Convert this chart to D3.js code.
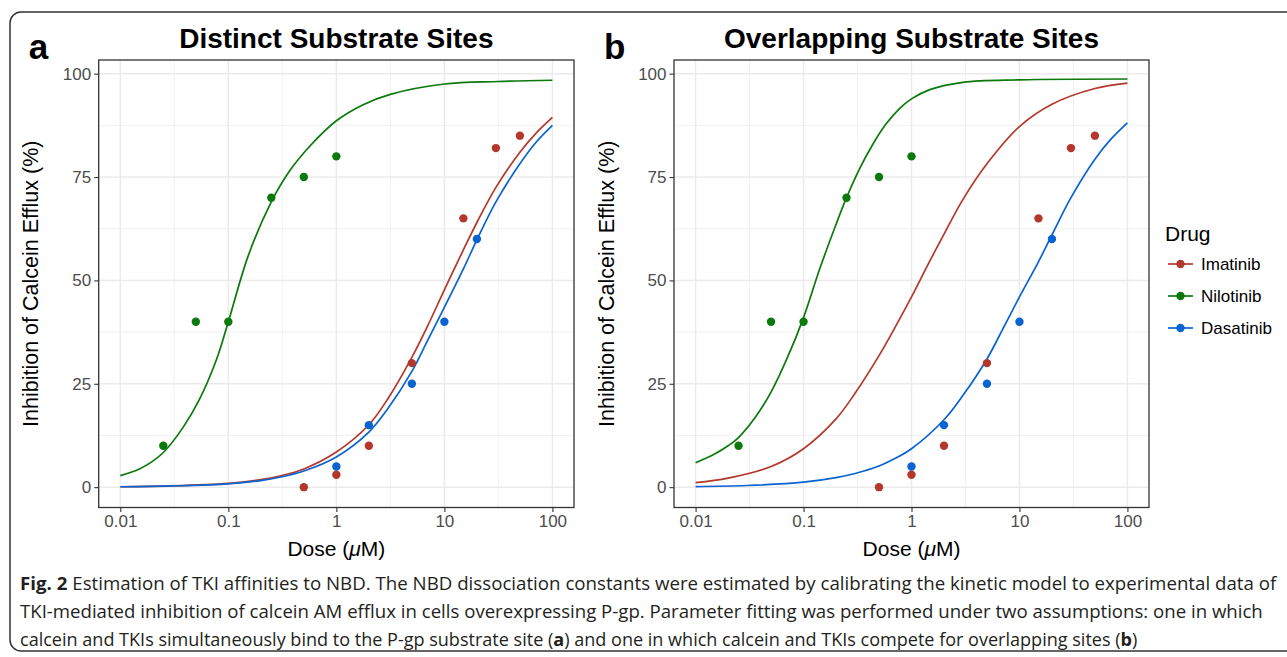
<!doctype html>
<html lang="en">

<head>
    <meta charset="utf-8">
    <title>TKI affinities to NBD</title>
    <script src="https://cdn.jsdelivr.net/npm/d3@7"></script>
    <style>
        body { margin: 0; background: #fff; }
        svg { display: block; font-family: "Liberation Sans", Arial, sans-serif; }
    </style>
</head>

<body>
    <svg></svg>
    <script>
        var width = 1287;
        var height = 657;

        // categories / legend
        var drugs = ["Imatinib", "Nilotinib", "Dasatinib"];
        var colors = ["#b3382b", "#0b790b", "#0a63d2"];
        var panelLetters = ["a", "b"];
        var panelTitles = ["Distinct Substrate Sites", "Overlapping Substrate Sites"];

        // tick labels
        var xTicks = [0.01, 0.1, 1, 10, 100];
        var xTickLabels = ["0.01", "0.1", "1", "10", "100"];
        var yTicks = [0, 25, 50, 75, 100];

        // observed data [dose (uM), inhibition (%)] - same in both panels
        var imatinibObs = [[0.5, 0], [1, 3], [2, 10], [5, 30], [15, 65], [30, 82], [50, 85]];
        var nilotinibObs = [[0.025, 10], [0.05, 40], [0.1, 40], [0.25, 70], [0.5, 75], [1, 80]];
        var dasatinibObs = [[1, 5], [2, 15], [5, 25], [10, 40], [20, 60]];

        // fitted model curves - panel a (distinct sites)
        var imatinibFitA = [[0.01, 0.1], [0.03, 0.3], [0.1, 0.9], [0.2, 1.8], [0.3, 2.7], [0.5, 4.4], [1, 8.5], [2, 15.1],
            [3, 21.4], [5, 31.4], [7, 39], [10, 47.7], [15, 57.4], [20, 64], [30, 72.5], [50, 81], [70, 85.5], [100, 89.4]];
        var nilotinibFitA = [[0.01, 2.8], [0.015, 4.4], [0.02, 6.3], [0.0253, 8.5], [0.038, 14.4], [0.054, 21.2], [0.078, 31],
            [0.1, 40], [0.153, 56], [0.25, 69], [0.37, 76.5], [0.57, 82.5], [1, 88.6], [1.77, 92.5], [3.16, 95.0], [10, 97.5],
            [31.6, 98.1], [100, 98.4]];
        var dasatinibFitA = [[0.01, 0.1], [0.03, 0.3], [0.1, 0.8], [0.2, 1.6], [0.3, 2.4], [0.5, 3.9], [1, 7.3], [2, 13.3],
            [3, 19], [5, 28], [7, 35.5], [10, 43.5], [15, 52.8], [20, 59.8], [30, 69], [50, 78.2], [70, 83.3], [100, 87.5]];

        // panel b (overlapping sites)
        var imatinibFitB = [[0.01, 1.1], [0.02, 2.2], [0.05, 5], [0.1, 9.3], [0.2, 16.5], [0.3, 22.7], [0.5, 31.8],
            [0.7, 38.5], [1, 46], [1.5, 55], [2, 61.2], [3, 69.6], [5, 78.2], [10, 87.2], [20, 92.6], [50, 96.4], [100, 97.7]];
        var nilotinibFitB = [[0.01, 5.9], [0.015, 8.0], [0.02, 10.0], [0.025, 12.0], [0.036, 17], [0.05, 23], [0.07, 31],
            [0.1, 41], [0.14, 52.5], [0.19, 62], [0.25, 70], [0.33, 77], [0.44, 83], [0.58, 87.8], [0.77, 91.5], [1, 93.9],
            [1.5, 96.2], [3, 97.9], [10, 98.5], [100, 98.7]];
        var dasatinibFitB = [[0.01, 0.15], [0.03, 0.4], [0.1, 1.2], [0.2, 2.3], [0.3, 3.3], [0.5, 5.1], [0.7, 6.9], [1, 9.3],
            [2, 16.3], [3, 22.2], [5, 31], [7, 38.2], [10, 46], [15, 54.5], [20, 61], [30, 70], [50, 79.3], [70, 84.1], [100, 88.1]];

        var obsByDrug = [imatinibObs, nilotinibObs, dasatinibObs];
        var fitsByPanel = [
            [imatinibFitA, nilotinibFitA, dasatinibFitA],
            [imatinibFitB, nilotinibFitB, dasatinibFitB]
        ];

        var plotTop = 60, plotBottom = 507.5;
        var panels = [{ left: 98.7, right: 574 }, { left: 674, right: 1149 }];

        var svg = d3.select('svg').attr('width', width).attr('height', height);

        // outer frame
        svg.append('rect')
            .attr('x', 10).attr('y', 12)
            .attr('width', 1300).attr('height', 639)
            .attr('rx', 11)
            .attr('fill', 'none').attr('stroke', '#333').attr('stroke-width', 1.5);

        var yScale = d3.scaleLinear().domain([-4.92, 103.3]).range([plotBottom, plotTop]);
        var yMinor = [12.5, 37.5, 62.5, 87.5];

        panels.forEach(function (p, pi) {
            var g = svg.append('g');
            var xScale = d3.scaleLog()
                .domain([Math.pow(10, -2.2), Math.pow(10, 2.2)])
                .range([p.left, p.right]);
            var xMinor = d3.pairs(xTicks).map(function (d) { return Math.sqrt(d[0] * d[1]); });

            // grid
            g.selectAll('.xminor').data(xMinor).enter().append('line')
                .attr('x1', function (d) { return xScale(d); }).attr('x2', function (d) { return xScale(d); })
                .attr('y1', plotTop).attr('y2', plotBottom)
                .attr('stroke', '#ededed').attr('stroke-width', 0.8);
            g.selectAll('.yminor').data(yMinor).enter().append('line')
                .attr('x1', p.left).attr('x2', p.right)
                .attr('y1', function (d) { return yScale(d); }).attr('y2', function (d) { return yScale(d); })
                .attr('stroke', '#ededed').attr('stroke-width', 0.8);
            g.selectAll('.xmajor').data(xTicks).enter().append('line')
                .attr('x1', function (d) { return xScale(d); }).attr('x2', function (d) { return xScale(d); })
                .attr('y1', plotTop).attr('y2', plotBottom)
                .attr('stroke', '#ebebeb').attr('stroke-width', 1.5);
            g.selectAll('.ymajor').data(yTicks).enter().append('line')
                .attr('x1', p.left).attr('x2', p.right)
                .attr('y1', function (d) { return yScale(d); }).attr('y2', function (d) { return yScale(d); })
                .attr('stroke', '#ebebeb').attr('stroke-width', 1.5);

            // fitted curves
            var line = d3.line()
                .x(function (d) { return xScale(d[0]); })
                .y(function (d) { return yScale(d[1]); })
                .curve(d3.curveCatmullRom.alpha(0.5));
            fitsByPanel[pi].forEach(function (fit, di) {
                g.append('path').datum(fit)
                    .attr('d', line)
                    .attr('fill', 'none')
                    .attr('stroke', colors[di])
                    .attr('stroke-width', 1.7);
            });

            // observed points
            obsByDrug.forEach(function (obs, di) {
                g.selectAll('.pt' + di).data(obs).enter().append('circle')
                    .attr('cx', function (d) { return xScale(d[0]); })
                    .attr('cy', function (d) { return yScale(d[1]); })
                    .attr('r', 4.2)
                    .attr('fill', colors[di]);
            });

            // panel border
            g.append('rect')
                .attr('x', p.left).attr('y', plotTop)
                .attr('width', p.right - p.left).attr('height', plotBottom - plotTop)
                .attr('fill', 'none').attr('stroke', '#333').attr('stroke-width', 1.3);

            // axes
            var xAxis = d3.axisBottom(xScale)
                .tickValues(xTicks)
                .tickFormat(function (d, i) { return xTickLabels[i]; })
                .tickSize(4.5).tickSizeOuter(0).tickPadding(3);
            var yAxis = d3.axisLeft(yScale)
                .tickValues(yTicks)
                .tickSize(4.5).tickSizeOuter(0).tickPadding(3);

            var gx = g.append('g').attr('transform', 'translate(0,' + plotBottom + ')').call(xAxis);
            var gy = g.append('g').attr('transform', 'translate(' + p.left + ',0)').call(yAxis);
            [gx, gy].forEach(function (ax) {
                ax.select('.domain').remove();
                ax.selectAll('.tick line').attr('stroke', '#333').attr('stroke-width', 1.1);
                ax.selectAll('.tick text')
                    .attr('fill', '#4d4d4d')
                    .style('font-size', '17px')
                    .style('font-family', '"Liberation Sans", Arial, sans-serif');
            });

            var cx = (p.left + p.right) / 2;

            // axis titles
            var xt = g.append('text')
                .attr('x', cx).attr('y', 556)
                .attr('text-anchor', 'middle')
                .style('font-size', '21px').attr('fill', '#000');
            xt.append('tspan').text('Dose (');
            xt.append('tspan').style('font-style', 'italic').text('\u03bc');
            xt.append('tspan').text('M)');

            g.append('text')
                .attr('transform', 'translate(' + (p.left - 60.5) + ',' + ((plotTop + plotBottom) / 2) + ') rotate(-90)')
                .attr('text-anchor', 'middle')
                .style('font-size', '21.5px').attr('fill', '#000')
                .text('Inhibition of Calcein Efflux (%)');

            // title and panel letter
            g.append('text')
                .attr('x', cx).attr('y', 48)
                .attr('text-anchor', 'middle')
                .style('font-size', '28px').style('font-weight', 'bold')
                .text(panelTitles[pi]);

            g.append('text')
                .attr('x', p.left - 70).attr('y', 59)
                .style('font-size', '35px').style('font-weight', 'bold')
                .text(panelLetters[pi]);
        });

        // legend
        var lg = svg.append('g').attr('transform', 'translate(1165,0)');
        lg.append('text').attr('x', 0).attr('y', 241)
            .style('font-size', '21px').text('Drug');
        drugs.forEach(function (d, i) {
            var yy = 264 + i * 32;
            lg.append('line').attr('x1', 3).attr('x2', 28).attr('y1', yy).attr('y2', yy)
                .attr('stroke', colors[i]).attr('stroke-width', 1.7);
            lg.append('circle').attr('cx', 15.5).attr('cy', yy).attr('r', 4.2).attr('fill', colors[i]);
            lg.append('text').attr('x', 36).attr('y', yy + 6)
                .style('font-size', '17px').text(d);
        });

        // caption (condensed look: larger size squeezed to the line width)
        var captionFont = '"Open Sans", "Noto Sans", sans-serif';
        var captionLines = [
            { y: 590, right: 1277, parts: [['Fig. 2', true], [' Estimation of TKI affinities to NBD. The NBD dissociation constants were estimated by calibrating the kinetic model to experimental data of', false]] },
            { y: 618, right: 1264, parts: [['TKI-mediated inhibition of calcein AM efflux in cells overexpressing P-gp. Parameter fitting was performed under two assumptions: one in which', false]] },
            { y: 646, right: 1138, parts: [['calcein and TKIs simultaneously bind to the P-gp substrate site (', false], ['a', true], [') and one in which calcein and TKIs compete for overlapping sites (', false], ['b', true], [')', false]] }
        ];
        captionLines.forEach(function (ln) {
            var t = svg.append('text')
                .style('font-family', captionFont)
                .style('font-size', '18px')
                .attr('fill', '#231f20');
            ln.parts.forEach(function (pt) {
                t.append('tspan').style('font-weight', pt[1] ? 'bold' : 'normal').text(pt[0]);
            });
            var len = t.node().getComputedTextLength();
            var sx = (ln.right - 20) / len;
            t.attr('transform', 'translate(20,' + ln.y + ') scale(' + sx + ',1)');
        });
    </script>

</body>

</html>
